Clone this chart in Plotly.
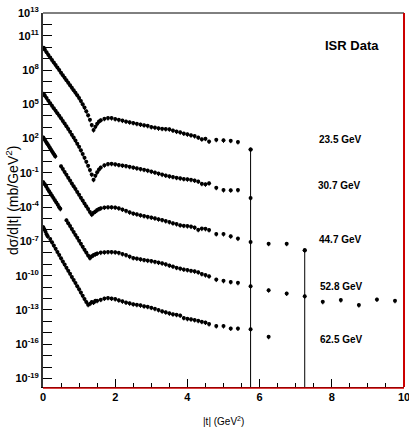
import plotly.graph_objects as go

# ---------------- data (log10 of dsigma/d|t|, as plotted, mb/GeV^2) ----------------
t_235 = [0.02, 0.05, 0.1, 0.15, 0.2, 0.25, 0.3, 0.35, 0.4, 0.45, 0.5, 0.55, 0.6, 0.65, 0.7, 0.75,
         0.8, 0.85, 0.9, 0.95, 1.0, 1.05, 1.1, 1.15, 1.2, 1.25, 1.3, 1.35, 1.4,
         1.45, 1.5, 1.55, 1.6, 1.7, 1.8, 1.9, 2.0, 2.1, 2.2, 2.3, 2.4, 2.5, 2.6, 2.7, 2.8, 2.9,
         3.0, 3.1, 3.2, 3.3, 3.4, 3.5, 3.6, 3.7, 3.8, 3.9, 4.0, 4.1, 4.2, 4.3, 4.4, 4.5, 4.6,
         4.8, 5.0, 5.2, 5.4, 5.75]
lg_235 = [9.95, 9.8, 9.56, 9.33, 9.1, 8.88, 8.66, 8.44, 8.22, 8.0, 7.78, 7.56, 7.34, 7.12, 6.9, 6.68,
          6.46, 6.24, 6.02, 5.79, 5.55, 5.3, 5.02, 4.72, 4.4, 4.05, 3.65, 3.2, 2.75,
          3.05, 3.3, 3.5, 3.62, 3.74, 3.8, 3.8, 3.72, 3.65, 3.58, 3.5, 3.44, 3.38, 3.3, 3.24, 3.18, 3.12,
          3.02, 2.97, 2.9, 2.87, 2.84, 2.82, 2.72, 2.62, 2.55, 2.45, 2.38, 2.3, 2.22, 2.1, 1.95, 2.0, 1.75,
          1.9, 1.85, 1.82, 1.7, 1.05]

t_307 = [0.02, 0.05, 0.1, 0.15, 0.2, 0.25, 0.3, 0.35, 0.4, 0.45, 0.5, 0.55, 0.6, 0.65, 0.7, 0.75,
         0.8, 0.85, 0.9, 0.95, 1.0, 1.05, 1.1, 1.15, 1.2, 1.25, 1.3, 1.35, 1.4,
         1.45, 1.5, 1.55, 1.6, 1.7, 1.8, 1.9, 2.0, 2.1, 2.2, 2.3, 2.4, 2.5, 2.6, 2.7, 2.8, 2.9,
         3.0, 3.1, 3.2, 3.3, 3.4, 3.5, 3.6, 3.7, 3.8, 3.9, 4.0, 4.1, 4.2, 4.3, 4.4, 4.5, 4.6,
         4.8, 5.0, 5.2, 5.4, 5.75]
lg_307 = [5.92, 5.78, 5.55, 5.32, 5.1, 4.88, 4.66, 4.44, 4.22, 4.0, 3.78, 3.55, 3.32, 3.08, 2.85, 2.6,
          2.35, 2.1, 1.84, 1.56, 1.28, 0.98, 0.66, 0.33, -0.02, -0.38, -0.75, -1.15, -1.6,
          -1.25, -0.95, -0.7, -0.52, -0.33, -0.22, -0.2, -0.25, -0.3, -0.35, -0.4, -0.46, -0.52, -0.6, -0.66, -0.72, -0.8,
          -0.88, -0.96, -1.06, -1.15, -1.22, -1.3, -1.35, -1.42, -1.48, -1.53, -1.56, -1.6, -1.66, -1.75, -1.95, -2.0, -1.9,
          -2.3, -2.5, -2.52, -2.5, -3.2]

t_447 = [0.01, 0.04, 0.07, 0.1, 0.13, 0.16, 0.19, 0.22, 0.25, 0.28, 0.31, 0.34,
         0.5, 0.55, 0.6, 0.65, 0.7, 0.75, 0.8, 0.85, 0.9, 0.95, 1.0, 1.05, 1.1, 1.15, 1.2, 1.25, 1.3, 1.35,
         1.4, 1.45, 1.5, 1.55, 1.6, 1.7, 1.8, 1.9, 2.0, 2.1, 2.2, 2.3, 2.4, 2.5, 2.6, 2.7, 2.8, 2.9,
         3.0, 3.1, 3.2, 3.3, 3.4, 3.5, 3.6, 3.7, 3.8, 3.9, 4.0, 4.1, 4.2, 4.3, 4.4, 4.5, 4.6,
         4.8, 5.0, 5.2, 5.4, 5.75, 6.25, 6.75, 7.25]
lg_447 = [2.1, 1.95, 1.8, 1.65, 1.5, 1.35, 1.2, 1.05, 0.9, 0.75, 0.6, 0.45,
          -0.42, -0.67, -0.92, -1.17, -1.42, -1.67, -1.92, -2.17, -2.42, -2.67, -2.92, -3.17, -3.42, -3.67, -3.92, -4.17, -4.42, -4.65,
          -4.5, -4.38, -4.25, -4.16, -4.1, -4.03, -4.0, -4.0, -4.02, -4.1, -4.2, -4.32, -4.45, -4.55, -4.62, -4.7, -4.78, -4.85,
          -4.9, -4.98, -5.05, -5.12, -5.22, -5.3, -5.4, -5.48, -5.58, -5.62, -5.66, -5.7, -5.78, -5.98, -5.88, -5.9, -6.0,
          -6.35, -6.35, -6.55, -6.75, -7.05, -7.2, -7.2, -7.78]

t_528 = [0.01, 0.05, 0.09, 0.13, 0.17, 0.21, 0.25, 0.29, 0.33, 0.37, 0.41, 0.45, 0.48,
         0.65, 0.7, 0.75, 0.8, 0.85, 0.9, 0.95, 1.0, 1.05, 1.1, 1.15, 1.2, 1.25, 1.3,
         1.35, 1.4, 1.45, 1.5, 1.6, 1.7, 1.8, 1.9, 2.0, 2.1, 2.2, 2.3, 2.4, 2.5, 2.6, 2.7, 2.8, 2.9,
         3.0, 3.1, 3.2, 3.3, 3.4, 3.5, 3.6, 3.7, 3.8, 3.9, 4.0, 4.1, 4.2, 4.3, 4.4, 4.5, 4.6,
         4.8, 5.0, 5.2, 5.4, 5.75, 6.25, 6.75, 7.25, 7.75, 8.25, 8.75, 9.25, 9.75]
lg_528 = [-1.82, -2.0, -2.2, -2.4, -2.6, -2.8, -3.0, -3.2, -3.4, -3.6, -3.8, -4.0, -4.15,
          -5.15, -5.4, -5.66, -5.92, -6.18, -6.43, -6.69, -6.95, -7.2, -7.46, -7.72, -7.98, -8.23, -8.45,
          -8.3, -8.2, -8.12, -8.05, -7.98, -7.95, -7.93, -7.93, -7.95, -8.0, -8.1, -8.2, -8.33, -8.45, -8.5, -8.56, -8.62, -8.68,
          -8.72, -8.78, -8.85, -8.92, -9.0, -9.1, -9.2, -9.3, -9.38, -9.45, -9.5, -9.56, -9.62, -9.7, -9.85, -9.95, -10.05,
          -10.34, -10.45, -10.55, -10.63, -10.92, -11.27, -11.56, -11.8, -12.29, -12.14, -12.58, -12.08, -12.2]

t_625 = [0.01, 0.04, 0.07, 0.1, 0.13,
         0.2, 0.25, 0.3, 0.35, 0.4, 0.45, 0.5, 0.55, 0.6, 0.65, 0.7, 0.75, 0.8, 0.85, 0.9, 0.95,
         1.0, 1.05, 1.1, 1.15, 1.2, 1.25, 1.3, 1.35, 1.4, 1.45, 1.5, 1.6, 1.7, 1.8, 1.9, 2.0,
         2.1, 2.2, 2.3, 2.4, 2.5, 2.6, 2.7, 2.8, 2.9, 3.0, 3.1, 3.2, 3.3, 3.4, 3.5, 3.6, 3.7, 3.8, 3.9,
         4.0, 4.1, 4.2, 4.3, 4.4, 4.5, 4.6, 4.8, 5.0, 5.2, 5.4, 5.75, 6.25]
lg_625 = [-5.75, -5.95, -6.15, -6.38, -6.55,
          -6.8, -7.08, -7.36, -7.64, -7.92, -8.2, -8.48, -8.75, -9.02, -9.3, -9.57, -9.84, -10.11, -10.38, -10.65, -10.92,
          -11.2, -11.48, -11.76, -12.04, -12.3, -12.55, -12.45, -12.3, -12.35, -12.2, -12.2, -12.1, -12.0, -11.95, -12.0, -12.05,
          -12.15, -12.25, -12.35, -12.42, -12.5, -12.55, -12.6, -12.68, -12.72, -12.8, -12.9, -13.0, -13.12, -13.2, -13.3, -13.38, -13.42, -13.48, -13.7,
          -13.78, -13.82, -13.88, -13.95, -14.03, -14.1, -14.24, -14.41, -14.41, -14.62, -14.62, -14.7, -15.35]

# points whose lower error bar reaches below the axis
t_long = [5.75, 7.25]
lg_long = [1.05, -7.78]

labels = ["23.5 GeV", "30.7 GeV", "44.7 GeV", "52.8 GeV", "62.5 GeV"]
label_pos = [(0.825, 0.661), (0.821, 0.540), (0.824, 0.394), (0.828, 0.270), (0.828, 0.126)]

series = [(t_235, lg_235), (t_307, lg_307), (t_447, lg_447), (t_528, lg_528), (t_625, lg_625)]

FONT = "Liberation Sans, Arial, Helvetica, sans-serif"

fig = go.Figure()
for t, lg in series:
    fig.add_trace(go.Scatter(
        x=t, y=[10 ** v for v in lg], mode="markers",
        marker=dict(color="black", size=4, line=dict(width=0)),
        error_y=dict(type="percent", value=40, color="black", thickness=1, width=0),
        showlegend=False, hoverinfo="skip"))

fig.add_trace(go.Scatter(
    x=t_long, y=[10 ** v for v in lg_long], mode="markers",
    marker=dict(color="black", size=4),
    error_y=dict(type="data", symmetric=False, array=[0 for _ in lg_long],
                 arrayminus=[2 * 10 ** v for v in lg_long], color="black", thickness=1, width=0),
    showlegend=False, hoverinfo="skip"))

ylab_exp = [13, 11, 8, 5, 2, -1, -4, -7, -10, -13, -16, -19]
ytickvals = [10.0 ** k for k in range(-19, 14)]
yticktext = [("10<sup>%d</sup>" % k) if k in ylab_exp else "" for k in range(-19, 14)]

fig.update_layout(
    width=409, height=429,
    margin=dict(l=43, r=5, t=13, b=42, autoexpand=False),
    paper_bgcolor="white", plot_bgcolor="white",
    xaxis=dict(range=[0, 10], tickvals=[0, 2, 4, 6, 8, 10], ticktext=["0", "2", "4", "6", "8", "10"],
               ticks="inside", ticklen=8, tickwidth=1, tickcolor="black", ticklabeloverflow="allow",
               automargin=False,
               minor=dict(dtick=0.5, tick0=0, ticks="inside", ticklen=4, tickcolor="black", tickwidth=1),
               showline=True, linecolor="black", linewidth=1, showgrid=False, zeroline=False,
               tickfont=dict(family=FONT, size=11, color="black", weight="bold")),
    yaxis=dict(type="log", range=[-19.75, 13.002], tickmode="array", tickvals=ytickvals, ticktext=yticktext,
               ticks="inside", ticklen=9, tickwidth=1, tickcolor="black", automargin=False,
               showline=True, linecolor="#333333", linewidth=2, showgrid=False, zeroline=False,
               tickfont=dict(family=FONT, size=11, color="black", weight="bold")),
    shapes=[
        dict(type="line", xref="paper", yref="paper", x0=0, x1=1, y0=1, y1=1,
             line=dict(color="black", width=1)),
        dict(type="line", xref="paper", yref="paper", x0=1, x1=1, y0=0, y1=1,
             line=dict(color="#cc0000", width=2)),
        dict(type="line", xref="paper", yref="paper", x0=0, x1=1, y0=-0.003, y1=-0.003,
             line=dict(color="#cc0000", width=1.5)),
    ],
)

annots = [dict(text="<b>ISR Data</b>", x=0.856, y=0.914, xref="paper", yref="paper", showarrow=False,
               xanchor="center", yanchor="middle",
               font=dict(family=FONT, size=13, color="black"))]
for lab, (px, py) in zip(labels, label_pos):
    annots.append(dict(text="<b>%s</b>" % lab, x=px, y=py, xref="paper", yref="paper", showarrow=False,
                       xanchor="center", yanchor="middle",
                       font=dict(family=FONT, size=10, color="black")))
annots.append(dict(text="dσ/d|t| (mb/GeV<sup>2</sup>)", x=-0.086, y=0.5, xref="paper", yref="paper",
                   xanchor="center", yanchor="middle",
                   textangle=-90, showarrow=False, font=dict(family=FONT, size=14, color="black")))
annots.append(dict(text="|t| (GeV<sup>2</sup>)", x=0.5, y=-0.09, xref="paper", yref="paper",
                   xanchor="center", yanchor="middle",
                   showarrow=False, font=dict(family=FONT, size=10, color="black")))
fig.update_layout(annotations=annots)

fig.write_html("out.html")
